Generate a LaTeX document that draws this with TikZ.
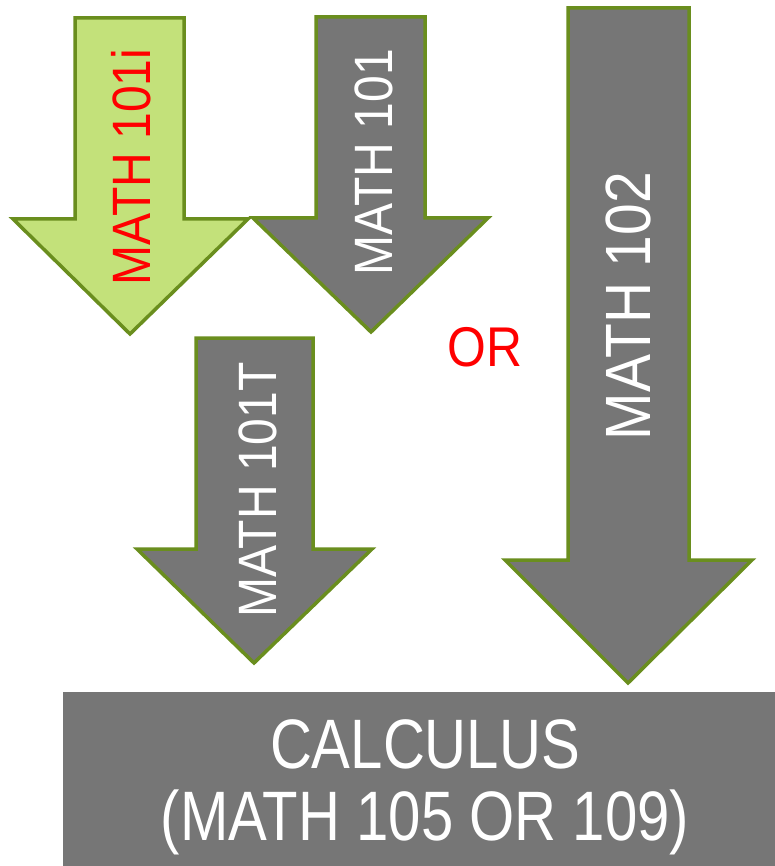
\documentclass[tikz,border=0pt]{standalone}
\usepackage{fontspec}
\setmainfont{Liberation Sans}
\newfontfamily\arrowfont[FakeStretch=0.89]{Liberation Sans}
\newfontfamily\boxfont[FakeStretch=0.83]{Liberation Sans}
\usetikzlibrary{positioning}
\definecolor{leafedge}{HTML}{6A8E1E}
\definecolor{leaf}{HTML}{C3E17A}
\definecolor{slate}{HTML}{767676}
\definecolor{warnred}{HTML}{FF0000}

\begin{document}
\begin{tikzpicture}[x=1pt,y=-1pt,
  arrowshape/.style={draw=leafedge,line width=3.5pt,line join=miter,fill=slate},
  courselbl/.style={rotate=90,inner sep=0pt,text=white,font=\arrowfont\fontsize{54}{54}\selectfont}]
 \useasboundingbox (0,0) rectangle (775,866);
 % four course arrows, all pointing down
 \draw[arrowshape,fill=leaf] (75,18) -- (184,18) -- (184,219) -- (248,219) -- (130,334) -- (13,219) -- (75,219) -- cycle;
 \draw[arrowshape] (316,17) -- (425,17) -- (425,218) -- (488,218) -- (371,332) -- (253,218) -- (316,218) -- cycle;
 \draw[arrowshape] (196,338) -- (313,338) -- (313,549) -- (372,549) -- (254,663) -- (137,549) -- (196,549) -- cycle;
 \draw[arrowshape] (568,8) -- (689,8) -- (689,560) -- (752,560) -- (628,683) -- (505,560) -- (568,560) -- cycle;
 \node[courselbl,text=warnred] (m101i) at (131,167) {MATH 101i};
 \node[courselbl] (m101) at (374,162) {MATH 101};
 \node[courselbl] (m101t) at (258,490) {MATH 101T};
 \node[courselbl,font=\arrowfont\fontsize{64}{64}\selectfont] (m102) at (628,306) {MATH 102};
 \node[inner sep=0pt,text=warnred,font=\arrowfont\fontsize{56}{56}\selectfont] (orword) at (485,347) {OR};
 % target box
 \node[fill=slate,minimum width=712pt,minimum height=174pt,inner sep=0pt,anchor=north west] (calc) at (63,692) {};
 \node[align=center,text=white,font=\boxfont\fontsize{70}{72}\selectfont] (calctext) at (425,787) {CALCULUS\\(MATH 105 OR 109)};
\end{tikzpicture}
\end{document}
